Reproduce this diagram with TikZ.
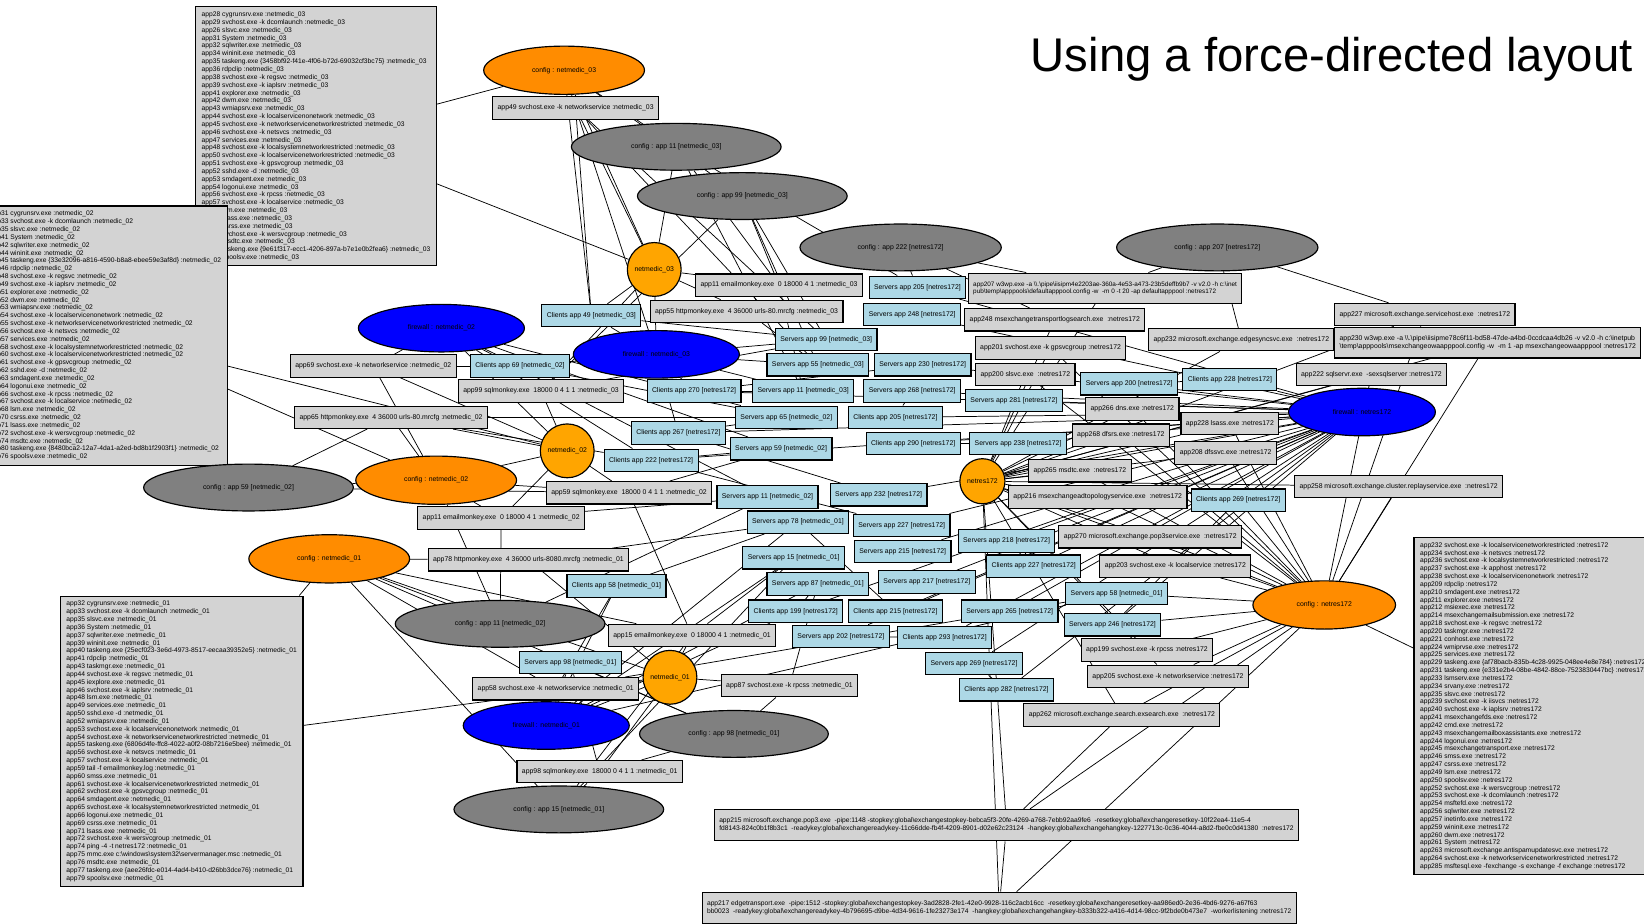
\documentclass[tikz,border=0pt]{standalone}
\usepackage{fontspec}
\setmainfont{Liberation Sans}
\usetikzlibrary{shapes.geometric}
\pgfdeclarelayer{bg}
\pgfsetlayers{bg,main}
\definecolor{procgray}{HTML}{D3D3D3}
\definecolor{svcblue}{HTML}{ADD8E6}
\definecolor{hostorange}{HTML}{FFA500}
\definecolor{cfgorange}{HTML}{FF8C00}
\definecolor{cfggray}{HTML}{808080}
\definecolor{fwblue}{HTML}{0000FF}
\newcommand{\nfont}{\fontsize{5.6}{6.6}\selectfont}
\newcommand{\lfont}{\fontsize{5.45}{6.38}\selectfont}
\newcommand{\wfont}{\fontsize{5.2}{6.2}\selectfont}
\newcommand{\bfont}{\fontsize{5.45}{6.4}\selectfont}
\newcommand{\bs}{\textbackslash}

\begin{document}
\begin{tikzpicture}[x=0.3mm, y=-0.3mm,
    link/.style={line width=0.6pt},
    box/.style={rectangle, draw, line width=0.95pt, inner xsep=4pt, inner ysep=2pt, minimum height=6.4mm, font=\nfont},
    proc/.style={box, fill=procgray},
    svc/.style={box, fill=svcblue},
    wide/.style={proc, align=left, font=\wfont, minimum height=8.7mm},
    bottom/.style={proc, align=left, font=\bfont, minimum height=9mm},
    listbox/.style={rectangle, draw, line width=0.95pt, fill=procgray, align=left, anchor=north west, inner xsep=5pt, inner ysep=4pt, font=\lfont},
    host/.style={circle, draw, line width=0.95pt, fill=hostorange, inner sep=0pt, minimum size=15.4mm, font=\nfont},
    cfg/.style={ellipse, draw, line width=0.95pt, fill=cfgorange, inner sep=0pt, minimum width=46mm, minimum height=13.8mm, font=\nfont},
    cfgapp/.style={cfg, fill=cfggray, minimum width=60mm, minimum height=13.4mm},
    fw/.style={cfg, fill=fwblue, minimum width=47.5mm, minimum height=13.6mm}]

\useasboundingbox (0,0) rectangle (1568,881);
\clip (0,0) rectangle (1568,881);

\node[anchor=base west, font=\fontsize{38.5}{46}\selectfont] (title) at (979,68) {Using a force-directed layout};

% --- process lists ---
\node[listbox] (lst3) at (186,6) {app28 cygrunsrv.exe :netmedic\_03\\ app29 svchost.exe -k dcomlaunch :netmedic\_03\\ app26 slsvc.exe :netmedic\_03\\ app31 System :netmedic\_03\\ app32 sqlwriter.exe :netmedic\_03\\ app34 wininit.exe :netmedic\_03\\ app35 taskeng.exe \{3458bf92-f41e-4f06-b72d-69032cf3bc75\} :netmedic\_03\\ app36 rdpclip :netmedic\_03\\ app38 svchost.exe -k regsvc :netmedic\_03\\ app39 svchost.exe -k iaplsrv :netmedic\_03\\ app41 explorer.exe :netmedic\_03\\ app42 dwm.exe :netmedic\_03\\ app43 wmiapsrv.exe :netmedic\_03\\ app44 svchost.exe -k localservicenonetwork :netmedic\_03\\ app45 svchost.exe -k networkservicenetworkrestricted :netmedic\_03\\ app46 svchost.exe -k netsvcs :netmedic\_03\\ app47 services.exe :netmedic\_03\\ app48 svchost.exe -k localsystemnetworkrestricted :netmedic\_03\\ app50 svchost.exe -k localservicenetworkrestricted :netmedic\_03\\ app51 svchost.exe -k gpsvcgroup :netmedic\_03\\ app52 sshd.exe -d :netmedic\_03\\ app53 smdagent.exe :netmedic\_03\\ app54 logonui.exe :netmedic\_03\\ app56 svchost.exe -k rpcss :netmedic\_03\\ app57 svchost.exe -k localservice :netmedic\_03\\ app58 lsm.exe :netmedic\_03\\ app60 lsass.exe :netmedic\_03\\ app61 csrss.exe :netmedic\_03\\ app62 svchost.exe -k wersvcgroup :netmedic\_03\\ app64 msdtc.exe :netmedic\_03\\ app66 taskeng.exe \{9e61f317-ecc1-4206-897a-b7e1e0b2fea6\} :netmedic\_03\\ app67 spoolsv.exe :netmedic\_03};

\node[listbox] (lst2) at (-16,196) {app31 cygrunsrv.exe :netmedic\_02\\ app33 svchost.exe -k dcomlaunch :netmedic\_02\\ app35 slsvc.exe :netmedic\_02\\ app41 System :netmedic\_02\\ app42 sqlwriter.exe :netmedic\_02\\ app44 wininit.exe :netmedic\_02\\ app45 taskeng.exe \{33e32096-a816-4590-b8a8-ebee59e3af8d\} :netmedic\_02\\ app46 rdpclip :netmedic\_02\\ app48 svchost.exe -k regsvc :netmedic\_02\\ app49 svchost.exe -k iaplsrv :netmedic\_02\\ app51 explorer.exe :netmedic\_02\\ app52 dwm.exe :netmedic\_02\\ app53 wmiapsrv.exe :netmedic\_02\\ app54 svchost.exe -k localservicenonetwork :netmedic\_02\\ app55 svchost.exe -k networkservicenetworkrestricted :netmedic\_02\\ app56 svchost.exe -k netsvcs :netmedic\_02\\ app57 services.exe :netmedic\_02\\ app58 svchost.exe -k localsystemnetworkrestricted :netmedic\_02\\ app60 svchost.exe -k localservicenetworkrestricted :netmedic\_02\\ app61 svchost.exe -k gpsvcgroup :netmedic\_02\\ app62 sshd.exe -d :netmedic\_02\\ app63 smdagent.exe :netmedic\_02\\ app64 logonui.exe :netmedic\_02\\ app66 svchost.exe -k rpcss :netmedic\_02\\ app67 svchost.exe -k localservice :netmedic\_02\\ app68 lsm.exe :netmedic\_02\\ app70 csrss.exe :netmedic\_02\\ app71 lsass.exe :netmedic\_02\\ app72 svchost.exe -k wersvcgroup :netmedic\_02\\ app74 msdtc.exe :netmedic\_02\\ app80 taskeng.exe \{8480bca2-12a7-4da1-a2ed-bd8b1f2903f1\} :netmedic\_02\\ app76 spoolsv.exe :netmedic\_02};

\node[listbox] (lst1) at (57,568) {app32 cygrunsrv.exe :netmedic\_01\\ app33 svchost.exe -k dcomlaunch :netmedic\_01\\ app35 slsvc.exe :netmedic\_01\\ app36 System :netmedic\_01\\ app37 sqlwriter.exe :netmedic\_01\\ app39 wininit.exe :netmedic\_01\\ app40 taskeng.exe \{25ecf023-3e6d-4973-8517-eecaa39352e5\} :netmedic\_01\\ app41 rdpclip :netmedic\_01\\ app43 taskmgr.exe :netmedic\_01\\ app44 svchost.exe -k regsvc :netmedic\_01\\ app45 iexplore.exe :netmedic\_01\\ app46 svchost.exe -k iaplsrv :netmedic\_01\\ app48 lsm.exe :netmedic\_01\\ app49 services.exe :netmedic\_01\\ app50 sshd.exe -d :netmedic\_01\\ app52 wmiapsrv.exe :netmedic\_01\\ app53 svchost.exe -k localservicenonetwork :netmedic\_01\\ app54 svchost.exe -k networkservicenetworkrestricted :netmedic\_01\\ app55 taskeng.exe \{6806d4fe-ffc8-4022-a0f2-08b7216e5bee\} :netmedic\_01\\ app56 svchost.exe -k netsvcs :netmedic\_01\\ app57 svchost.exe -k localservice :netmedic\_01\\ app59 tail -f emailmonkey.log :netmedic\_01\\ app60 smss.exe :netmedic\_01\\ app61 svchost.exe -k localservicenetworkrestricted :netmedic\_01\\ app62 svchost.exe -k gpsvcgroup :netmedic\_01\\ app64 smdagent.exe :netmedic\_01\\ app65 svchost.exe -k localsystemnetworkrestricted :netmedic\_01\\ app66 logonui.exe :netmedic\_01\\ app69 csrss.exe :netmedic\_01\\ app71 lsass.exe :netmedic\_01\\ app72 svchost.exe -k wersvcgroup :netmedic\_01\\ app74 ping -4 -t netres172 :netmedic\_01\\ app75 mmc.exe c:\bs windows\bs system32\bs servermanager.msc :netmedic\_01\\ app76 msdtc.exe :netmedic\_01\\ app77 taskeng.exe \{aee26fdc-e014-4ad4-b410-d26bb3dce76\} :netmedic\_01\\ app79 spoolsv.exe :netmedic\_01};

\node[listbox] (lstr) at (1348,512) {app232 svchost.exe -k localservicenetworkrestricted :netres172\\ app234 svchost.exe -k netsvcs :netres172\\ app236 svchost.exe -k localsystemnetworkrestricted :netres172\\ app237 svchost.exe -k apphost :netres172\\ app238 svchost.exe -k localservicenonetwork :netres172\\ app209 rdpclip :netres172\\ app210 smdagent.exe :netres172\\ app211 explorer.exe :netres172\\ app212 msiexec.exe :netres172\\ app214 msexchangemailsubmission.exe :netres172\\ app218 svchost.exe -k regsvc :netres172\\ app220 taskmgr.exe :netres172\\ app221 conhost.exe :netres172\\ app224 wmiprvse.exe :netres172\\ app225 services.exe :netres172\\ app229 taskeng.exe \{af78bacb-835b-4c28-9925-048ee4e8e784\} :netres172\\ app231 taskeng.exe \{e331e2b4-08be-4842-88ce-7523830447bc\} :netres172\\ app233 lsmserv.exe :netres172\\ app234 srvany.exe :netres172\\ app235 slsvc.exe :netres172\\ app239 svchost.exe -k iisvcs :netres172\\ app240 svchost.exe -k iaplsrv :netres172\\ app241 msexchangefds.exe :netres172\\ app242 cmd.exe :netres172\\ app243 msexchangemailboxassistants.exe :netres172\\ app244 logonui.exe :netres172\\ app245 msexchangetransport.exe :netres172\\ app246 smss.exe :netres172\\ app247 csrss.exe :netres172\\ app249 lsm.exe :netres172\\ app250 spoolsv.exe :netres172\\ app252 svchost.exe -k wersvcgroup :netres172\\ app253 svchost.exe -k dcomlaunch :netres172\\ app254 msftefd.exe :netres172\\ app256 sqlwriter.exe :netres172\\ app257 inetinfo.exe :netres172\\ app259 wininit.exe :netres172\\ app260 dwm.exe :netres172\\ app261 System :netres172\\ app263 microsoft.exchange.antispamupdatesvc.exe :netres172\\ app264 svchost.exe -k networkservicenetworkrestricted :netres172\\ app285 msftesql.exe -fexchange -s exchange -f exchange :netres172};

% --- hosts, configs, firewalls ---
\node[host] (nm3) at (624,257) {netmedic\_03};
\node[host] (nm2) at (541,430) {netmedic\_02};
\node[host] (nm1) at (639,646) {netmedic\_01};
\node[host, minimum size=12.9mm] (nr) at (937,459) {netres172};

\node[cfg] (cfg3) at (538,67) {config : netmedic\_03};
\node[cfg] (cfg2) at (416,458) {config : netmedic\_02};
\node[cfg] (cfg1) at (314,533) {config : netmedic\_01};
\node[cfg, minimum width=40.8mm] (cfgr) at (1263,577) {config : netres172};

\node[cfgapp] (ca11n3) at (645,140) {config : app 11 [netmedic\_03]};
\node[cfgapp] (ca99n3) at (708,187) {config : app 99 [netmedic\_03]};
\node[cfgapp, minimum width=57.6mm] (ca222) at (859,236) {config : app 222 [netres172]};
\node[cfgapp, minimum width=57.6mm] (ca207) at (1161,236) {config : app 207 [netres172]};
\node[cfgapp] (ca59n2) at (237,465) {config : app 59 [netmedic\_02]};
\node[cfgapp] (ca11n2) at (477,595) {config : app 11 [netmedic\_02]};
\node[cfgapp, minimum width=54mm] (ca98n1) at (700,700) {config : app 98 [netmedic\_01]};
\node[cfgapp] (ca15n1) at (533,772) {config : app 15 [netmedic\_01]};

\node[fw] (fw3) at (626,338) {firewall : netmedic\_03};
\node[fw] (fw2) at (421,313) {firewall : netmedic\_02};
\node[fw] (fw1) at (521,692) {firewall : netmedic\_01};
\node[fw, minimum width=42mm] (fwr) at (1299,393) {firewall : netres172};

% --- processes ---
\node[proc] (p49n3) at (549,103) {app49 svchost.exe -k networkservice :netmedic\_03};
\node[proc] (p11n3) at (743,272) {app11 emailmonkey.exe \ 0 18000 4 1 :netmedic\_03};
\node[proc] (p55n3) at (712,297) {app55 httpmonkey.exe \ 4 36000 urls-80.mrcfg :netmedic\_03};
\node[proc] (p69n2) at (356,349) {app69 svchost.exe -k networkservice :netmedic\_02};
\node[proc] (p99n3) at (516,373) {app99 sqlmonkey.exe \ 18000 0 4 1 1 :netmedic\_03};
\node[proc] (p65n2) at (373,398) {app65 httpmonkey.exe \ 4 36000 urls-80.mrcfg :netmedic\_02};
\node[proc] (p59n2) at (600,470) {app59 sqlmonkey.exe \ 18000 0 4 1 1 :netmedic\_02};
\node[proc] (p11n2) at (478,494) {app11 emailmonkey.exe \ 0 18000 4 1 :netmedic\_02};
\node[proc] (p78n1) at (504,534) {app78 httpmonkey.exe \ 4 36000 urls-8080.mrcfg :netmedic\_01};
\node[proc] (p15n1) at (660,606) {app15 emailmonkey.exe \ 0 18000 4 1 :netmedic\_01};
\node[proc] (p58n1) at (530,657) {app58 svchost.exe -k networkservice :netmedic\_01};
\node[proc] (p87n1) at (753,654) {app87 svchost.exe -k rpcss :netmedic\_01};
\node[proc] (p98n1) at (572,736) {app98 sqlmonkey.exe \ 18000 0 4 1 1 :netmedic\_01};

\node[wide] (p207) at (1054,275) {app207 w3wp.exe -a \bs\bs .\bs pipe\bs iisipm4e2203ae-360a-4e53-a473-23b5deffb9b7 -v v2.0 -h c:\bs inet\\ pub\bs temp\bs apppools\bs defaultapppool.config -w \ -m 0 -t 20 -ap defaultapppool :netres172};
\node[proc] (p248) at (1006,305) {app248 msexchangetransportlogsearch.exe \ :netres172};
\node[proc] (p201) at (1002,332) {app201 svchost.exe -k gpsvcgroup :netres172};
\node[proc] (p200) at (978,357) {app200 slsvc.exe \ :netres172};
\node[proc] (p232) at (1184,324) {app232 microsoft.exchange.edgesyncsvc.exe \ :netres172};
\node[proc] (p227) at (1359,300) {app227 microsoft.exchange.servicehost.exe \ :netres172};
\node[wide, font=\fontsize{5.6}{6.4}\selectfont] (p230) at (1419,327) {app230 w3wp.exe -a \bs\bs .\bs pipe\bs iisipme78c6f11-bd58-47de-a4bd-0ccdcaa4db26 -v v2.0 -h c:\bs inetpub\\ \bs temp\bs apppools\bs msexchangeowaapppool.config -w \ -m 1 -ap msexchangeowaapppool :netres172};
\node[proc] (p222) at (1308,357) {app222 sqlservr.exe \ -sexsqlserver :netres172};
\node[proc] (p266) at (1080,390) {app266 dns.exe :netres172};
\node[proc] (p228) at (1173,404) {app228 lsass.exe :netres172};
\node[proc] (p268) at (1069,415) {app268 dfsrs.exe :netres172};
\node[proc] (p208) at (1169,432) {app208 dfssvc.exe :netres172};
\node[proc] (p265) at (1030,449) {app265 msdtc.exe \ :netres172};
\node[proc] (p216) at (1047,474) {app216 msexchangeadtopologyservice.exe \ :netres172};
\node[proc] (p258) at (1334,464) {app258 microsoft.exchange.cluster.replayservice.exe \ :netres172};
\node[proc] (p270) at (1097,512) {app270 microsoft.exchange.pop3service.exe \ :netres172};
\node[proc] (p203) at (1121,540) {app203 svchost.exe -k localservice :netres172};
\node[proc] (p199) at (1094,620) {app199 svchost.exe -k rpcss :netres172};
\node[proc] (p205) at (1114,645) {app205 svchost.exe -k networkservice :netres172};
\node[proc] (p262) at (1070,682) {app262 microsoft.exchange.search.exsearch.exe \ :netres172};

\node[bottom] (p215) at (960,787) {app215 microsoft.exchange.pop3.exe \ -pipe:1148 -stopkey:global\bs exchangestopkey-bebca5f3-20fe-4269-a768-7ebb92aa9fe6 \ -resetkey:global\bs exchangeresetkey-10f22ea4-11e5-4\\ fd8143-824c0b1f8b3c1 \ -readykey:global\bs exchangereadykey-11c66dde-fb4f-4209-8901-d02e62c23124 \ -hangkey:global\bs exchangehangkey-1227713c-0c36-4044-a8d2-fbe0c0d41380 \ :netres172};
\node[bottom] (p217) at (953,866) {app217 edgetransport.exe \ -pipe:1512 -stopkey:global\bs exchangestopkey-3ad2828-2fe1-42e0-9928-116c2acb16cc \ -resetkey:global\bs exchangeresetkey-aa986ed0-2e36-4bd6-9276-a67f63\\ bb0023 \ -readykey:global\bs exchangereadykey-4b796695-d9be-4d34-9616-1fe23273e174 \ -hangkey:global\bs exchangehangkey-b333b322-a416-4d14-98cc-9f2bde0b473e7 \ -workerlistening :netres172};

% --- clients and servers ---
\node[svc] (c49n3) at (564,301) {Clients app 49 [netmedic\_03]};
\node[svc] (s205) at (875,274) {Servers app 205 [netres172]};
\node[svc] (s248) at (870,300) {Servers app 248 [netres172]};
\node[svc] (s99n3) at (788,324) {Servers app 99 [netmedic\_03]};
\node[svc] (s55n3) at (780,348) {Servers app 55 [netmedic\_03]};
\node[svc] (s230) at (880,348) {Servers app 230 [netres172]};
\node[svc] (c69n2) at (496,349) {Clients app 69 [netmedic\_02]};
\node[svc] (c270) at (662,373) {Clients app 270 [netres172]};
\node[svc] (s11n3) at (766,373) {Servers app 11 [netmedic\_03]};
\node[svc] (s268) at (870,373) {Servers app 268 [netres172]};
\node[svc] (s281) at (967,382) {Servers app 281 [netres172]};
\node[svc] (s200) at (1077,366) {Servers app 200 [netres172]};
\node[svc] (c228) at (1173,362) {Clients app 228 [netres172]};
\node[svc] (s65n2) at (750,398) {Servers app 65 [netmedic\_02]};
\node[svc] (c205) at (854,398) {Clients app 205 [netres172]};
\node[svc] (c267) at (647,413) {Clients app 267 [netres172]};
\node[svc] (s59n2) at (745,428) {Servers app 59 [netmedic\_02]};
\node[svc] (c290) at (871,423) {Clients app 290 [netres172]};
\node[svc] (s238) at (971,423) {Servers app 238 [netres172]};
\node[svc] (c222) at (621,439) {Clients app 222 [netres172]};
\node[svc] (s11n2) at (732,474) {Servers app 11 [netmedic\_02]};
\node[svc] (s232) at (838,472) {Servers app 232 [netres172]};
\node[svc] (c269) at (1181,477) {Clients app 269 [netres172]};
\node[svc] (s78n1) at (761,498) {Servers app 78 [netmedic\_01]};
\node[svc] (s227) at (860,501) {Servers app 227 [netres172]};
\node[svc] (s218) at (960,516) {Servers app 218 [netres172]};
\node[svc] (s215) at (861,526) {Servers app 215 [netres172]};
\node[svc] (s15n1) at (757,532) {Servers app 15 [netmedic\_01]};
\node[svc] (c227) at (986,540) {Clients app 227 [netres172]};
\node[svc] (s217) at (884,555) {Servers app 217 [netres172]};
\node[svc] (s87n1) at (780,557) {Servers app 87 [netmedic\_01]};
\node[svc] (c58n1) at (588,559) {Clients app 58 [netmedic\_01]};
\node[svc] (s58n1) at (1065,566) {Servers app 58 [netmedic\_01]};
\node[svc] (c199) at (759,583) {Clients app 199 [netres172]};
\node[svc] (c215) at (854,583) {Clients app 215 [netres172]};
\node[svc] (s265) at (963,583) {Servers app 265 [netres172]};
\node[svc] (s246) at (1061,596) {Servers app 246 [netres172]};
\node[svc] (s202) at (802,607) {Servers app 202 [netres172]};
\node[svc] (c293) at (901,608) {Clients app 293 [netres172]};
\node[svc] (s98n1) at (544,632) {Servers app 98 [netmedic\_01]};
\node[svc] (s269) at (929,633) {Servers app 269 [netres172]};
\node[svc] (c282) at (960,658) {Clients app 282 [netres172]};

% --- links ---
\begin{pgfonlayer}{bg}
\foreach \a/\b in {lst3/cfg3, lst3/nm3, lst2/nm2, lst2/cfg2, lst1/cfg1, lst1/nm1, lstr/cfgr,
    cfg3/p49n3, cfg3/nm3, cfg3/ca11n3, cfg3/ca99n3, cfg3/c49n3, p49n3/nm3, p49n3/c49n3, p49n3/s55n3, p49n3/fw3, p49n3/s99n3,
    nm3/p11n3, nm3/p55n3, nm3/p99n3, nm3/fw3, nm3/c49n3, nm3/ca11n3,
    ca11n3/p11n3, ca11n3/s11n3, ca11n3/s205, ca99n3/p99n3, ca99n3/s99n3, ca99n3/p11n3, ca99n3/s55n3,
    fw3/c49n3, fw3/s99n3, fw3/s55n3, fw3/s11n3, fw3/c270, fw3/c69n2, fw3/c267,
    p11n3/s11n3, p55n3/s55n3, p99n3/s99n3,
    nm2/p69n2, nm2/p65n2, nm2/p59n2, nm2/p11n2, nm2/cfg2, nm2/fw2, nm2/p99n3,
    cfg2/p65n2, cfg2/p59n2, cfg2/ca59n2, cfg2/ca11n2, cfg2/p11n2, cfg2/p69n2,
    fw2/c69n2, fw2/s65n2, fw2/s59n2, fw2/s11n2, fw2/p69n2, fw2/c222,
    p69n2/c69n2, p65n2/s65n2, p59n2/s59n2, p11n2/s11n2, p65n2/c222,
    ca11n2/p11n2, ca11n2/s11n2, ca59n2/p59n2, ca59n2/p65n2,
    nm1/p78n1, nm1/p15n1, nm1/p58n1, nm1/p87n1, nm1/p98n1, nm1/fw1, nm1/cfg1,
    cfg1/p78n1, cfg1/p58n1, cfg1/ca98n1, cfg1/ca15n1, cfg1/p15n1, cfg1/ca11n2,
    fw1/c58n1, fw1/s98n1, fw1/s78n1, fw1/s15n1, fw1/s87n1, fw1/s58n1, fw1/c199,
    p78n1/s78n1, p15n1/s15n1, p98n1/s98n1, p87n1/s87n1, p58n1/c58n1, p58n1/s58n1, p59n2/p15n1,
    ca98n1/p98n1, ca98n1/s98n1, ca98n1/p87n1, ca15n1/p15n1, ca15n1/s15n1, ca15n1/p98n1,
    c49n3/s99n3, c69n2/s65n2, c58n1/s78n1, c270/s11n3, c267/s65n2, c222/s59n2, c199/s87n1, c215/s78n1,
    c205/s268, c290/s238, c227/s218, c293/s202, c282/s269, c228/s200, c269/s246, c270/s230, c267/s232, c222/s227,
    nr/fwr, nr/cfgr, ca222/p207, ca222/p248, ca222/s205, ca207/p207, ca207/p232, ca207/p227,
    p215/p217, p262/p215, cfgr/p215, cfgr/p217}
    \draw[link] (\a) -- (\b);
\foreach \n in {p207, p248, p201, p200, p232, p227, p230, p222, p266, p228, p268, p208, p265, p216, p258, p270, p203, p199, p205, p262, p215, p217}
    \draw[link] (nr) -- (\n);
\foreach \n in {s205, s248, s230, c270, s268, c205, s281, s200, c228, c267, c290, s238, c222, s232, s227, s215, s218, c227, s217, c199, c215, s265, s246, s202, c293, s269, c282, c269}
    \draw[link] (fwr) -- (\n);
\foreach \n in {p266, p228, p268, p208, p265, p216, p258, p270, p203, p199, p205, p262, p230, p227, p222, p201, p200, s246, s58n1, c269}
    \draw[link] (cfgr) -- (\n);
\end{pgfonlayer}
\end{tikzpicture}
\end{document}
